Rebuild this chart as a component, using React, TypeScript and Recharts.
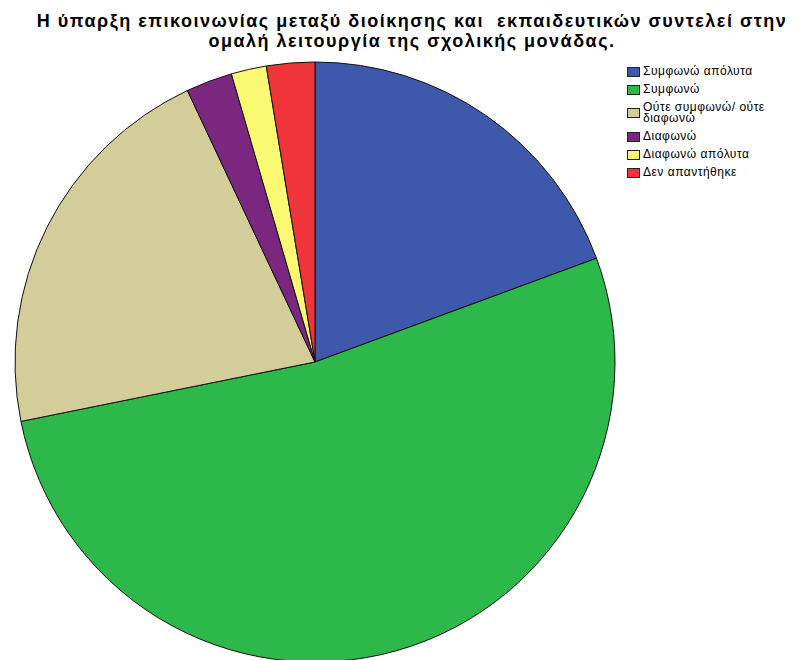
import { PieChart, Pie, Cell, Legend } from 'recharts'

const categories = [
  'Συμφωνώ απόλυτα',
  'Συμφωνώ',
  'Ούτε συμφωνώ/ ούτε διαφωνώ',
  'Διαφωνώ',
  'Διαφωνώ απόλυτα',
  'Δεν απαντήθηκε'
]
const percentages = [19.4, 52.5, 21.2, 2.5, 1.9, 2.6]
const colors = ['#3e58ac', '#2db84a', '#d3cd99', '#7b277f', '#fbf871', '#ef3539']

const data = categories.map((name, i) => ({ name, value: percentages[i] }))

const titleLines = [
  'Η ύπαρξη επικοινωνίας μεταξύ διοίκησης και  εκπαιδευτικών συντελεί στην',
  'ομαλή λειτουργία της σχολικής μονάδας.'
]

function LegendBox() {
  return (
    <div style={{ fontFamily: '"Liberation Sans", Arial, sans-serif', fontSize: 12, color: '#000', lineHeight: '11px', letterSpacing: 0.5 }}>
      {categories.map((c, i) => (
        <div key={c} style={{ display: 'flex', alignItems: 'center', marginBottom: 7 }}>
          <span
            style={{
              width: 11,
              height: 8,
              background: colors[i],
              border: '1px solid #222',
              marginRight: 3,
              flexShrink: 0
            }}
          />
          <span style={{ width: 140 }}>{c}</span>
        </div>
      ))}
    </div>
  )
}

export default function App() {
  return (
    <div style={{ position: 'absolute', left: 0, top: 0, width: 804, height: 660, background: '#fff', overflow: 'hidden' }}>
      <div
        style={{
          position: 'absolute',
          top: 11,
          left: 10,
          width: 804,
          textAlign: 'center',
          fontFamily: '"Liberation Sans", Arial, sans-serif',
          fontWeight: 'bold',
          fontSize: 18,
          lineHeight: '20px',
          letterSpacing: 1.5,
          whiteSpace: 'pre'
        }}
      >
        {titleLines.map(l => (
          <div key={l}>{l}</div>
        ))}
      </div>
      <PieChart width={804} height={700}>
        <Pie
          data={data}
          dataKey="value"
          nameKey="name"
          cx={310}
          cy={357}
          outerRadius={300}
          startAngle={90}
          endAngle={-270}
          stroke="#111"
          strokeWidth={1}
          isAnimationActive={false}
        >
          {data.map((d, i) => (
            <Cell key={d.name} fill={colors[i]} />
          ))}
        </Pie>
        <Legend
          layout="vertical"
          verticalAlign="top"
          align="right"
          wrapperStyle={{ position: 'absolute', left: 627, top: 66, width: 170 }}
          content={() => <LegendBox />}
        />
      </PieChart>
    </div>
  )
}
